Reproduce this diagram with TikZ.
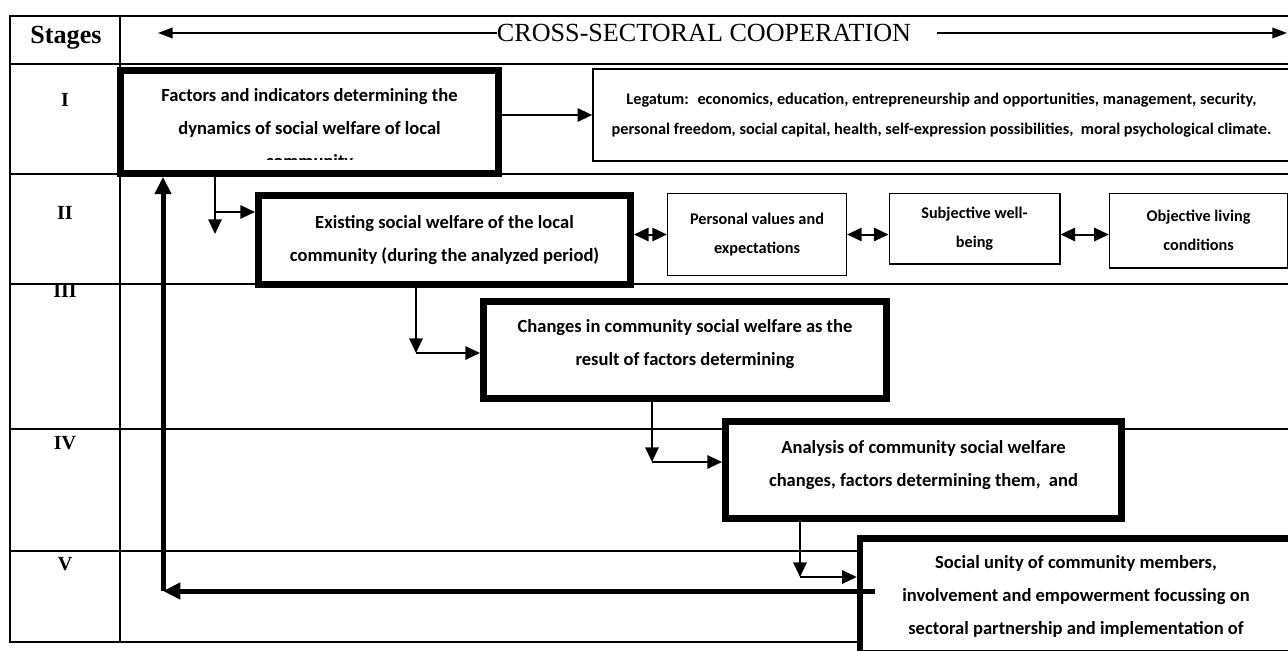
\documentclass[tikz,border=0pt]{standalone}
\usepackage{fontspec}
\setmainfont{Liberation Serif}
\newfontfamily\calibri{Carlito}
\usetikzlibrary{arrows.meta}

\begin{document}
\begin{tikzpicture}[x=0.75pt, y=-0.75pt,
  tbl/.style={line width=1.5pt},
  bigbox/.style={draw, line width=5pt, fill=white, inner sep=0pt},
  bigtext/.style={font=\calibri\bfseries\fontsize{13.9pt}{24.75pt}\selectfont, align=center, inner sep=0pt},
  smallbox/.style={draw, line width=1.1pt, fill=white, align=center, inner sep=0pt, font=\calibri\bfseries\fontsize{12.2pt}{22pt}\selectfont},
  stage/.style={font=\bfseries\fontsize{15pt}{18pt}\selectfont},
  thinarrow/.style={line width=1.5pt, -{Triangle[length=11pt,width=10pt]}},
  dblarrow/.style={line width=1.5pt, {Triangle[length=11pt,width=10pt]}-{Triangle[length=11pt,width=10pt]}},
  fbarrow/.style={line width=3.75pt, -{Triangle[length=13pt,width=12pt]}}]

\useasboundingbox (0,0) rectangle (1288,650);
\clip (0,0) rectangle (1288,650);
\fill[white] (0,0) rectangle (1288,650);

% table
\draw[tbl] (10,16) rectangle (1300,642);
\draw[tbl] (120,16) -- (120,642);
\foreach \y in {64,174,284,429,551}
  \draw[tbl] (10,\y) -- (1300,\y);

\node[font=\bfseries\fontsize{19.6pt}{22pt}\selectfont] (st) at (66,38) {Stages};
\node[stage] (s1) at (65,100) {I};
\node[stage] (s2) at (65,213) {II};
\node[stage] (s3) at (65,291) {III};
\node[stage] (s4) at (65,443) {IV};
\node[stage] (s5) at (65,564) {V};

% header
\node[font=\fontsize{19.6pt}{22pt}\selectfont, inner sep=0pt, fill=white] (coop) at (704,33) {CROSS-SECTORAL COOPERATION};
\coordinate (hl) at (158,33);
\coordinate (hr) at (1287,33);
\draw[line width=1.1pt, -{Triangle[length=11pt,width=8pt]}] (coop.west) -- (hl);
\draw[line width=1.1pt, -{Triangle[length=11pt,width=8pt]}] ([xshift=19pt]coop.east) -- (hr);

% stage I
\node[bigbox, minimum width=283.5pt, minimum height=77.25pt] (1) at (309.5,122) {};
\begin{scope}
\clip (123,70) rectangle (497,159);
\node[bigtext] (1t) at (309.5,129) {Factors and indicators determining the\\dynamics of social welfare of local\\community};
\end{scope}
\node[smallbox, minimum width=522.8pt, minimum height=69.3pt] (1a) at (941.5,115) {Legatum:~ economics, education, entrepreneurship and opportunities, management, security,\\personal freedom, social capital, health, self-expression possibilities,~ moral psychological climate.};
\draw[thinarrow] (1.east |- 1a.west) -- (1a.west);

% stage II
\node[bigbox, bigtext, minimum width=279.25pt, minimum height=67pt] (2) at (444.5,240) {Existing social welfare of the local\\community (during the analyzed period)};
\node[smallbox, minimum width=134pt, minimum height=61.2pt] (2a) at (757,234.5) {Personal values and\\expectations};
\node[smallbox, minimum width=127.9pt, minimum height=52.9pt] (2b) at (974.5,228.5) {Subjective well-\\being};
\node[smallbox, minimum width=133.6pt, minimum height=55.9pt] (2c) at (1198.6,230.5) {Objective living\\conditions};
\coordinate (b1) at (215,212);
\coordinate (d1) at (215,234);
\draw[thinarrow] (1.south -| b1) -- (d1);
\draw[thinarrow] (b1) -- (b1 -| 2.west);
\draw[dblarrow] (2.east |- 2a.west) -- (2a.west);
\draw[dblarrow] (2a.east) -- (2a.east -| 2b.west);
\draw[dblarrow] (2b.east |- 2a.east) -- (2c.west |- 2a.east);

% stage III
\node[bigbox, minimum width=302.5pt, minimum height=73pt] (3) at (685,350) {};
\node[bigtext] (3t) at (685,344.5) {Changes in community social welfare as the\\result of factors determining};
\coordinate (c2) at (416,353);
\draw[thinarrow] (2.south -| c2) -- (c2);
\draw[thinarrow] (c2) -- (c2 -| 3.west);

% stage IV
\node[bigbox, minimum width=297.25pt, minimum height=73pt] (4) at (923.5,470) {};
\node[bigtext] (4t) at (923.5,465) {Analysis of community social welfare\\changes, factors determining them,~ and};
\coordinate (c3) at (652,462);
\draw[thinarrow] (3.south -| c3) -- (c3);
\draw[thinarrow] (c3) -- (c3 -| 4.west);

% stage V
\node[bigbox, bigtext, minimum width=323.8pt, minimum height=86.5pt] (5) at (1076,596) {Social unity of community members,\\involvement and empowerment focussing on\\sectoral partnership and implementation of};
\coordinate (c4) at (800,577);
\draw[thinarrow] (4.south -| c4) -- (c4);
\draw[thinarrow] (c4) -- (c4 -| 5.west);

% feedback to stage I
\coordinate (fb) at (163,591);
\draw[fbarrow] ([shift={(18,-5)}]5.west) -- (fb);
\draw[fbarrow] (fb) -- (fb |- 1.south);
\end{tikzpicture}
\end{document}
